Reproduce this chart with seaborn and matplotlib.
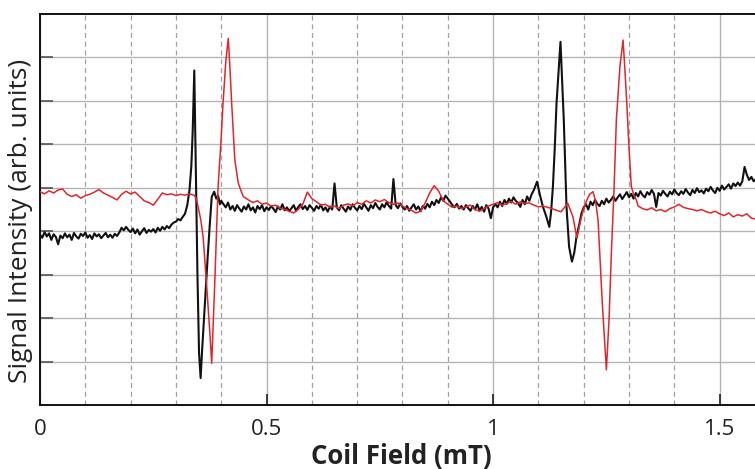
import numpy as np
import pandas as pd
import matplotlib
matplotlib.use("Agg")
import matplotlib.pyplot as plt
import seaborn as sns

# ---------------- data ----------------
# black trace: sampled segments (start, step) + hand-read values
black_segA_start, black_step = 0.0, 0.005
black_segA = [3.92, 3.85, 3.98, 3.88, 3.95, 3.80, 3.93, 3.87, 3.70, 3.90,
              3.84, 3.95, 3.86, 3.92, 3.80, 3.96, 3.88, 3.83, 3.94, 3.89,
              3.97, 3.85, 3.91, 3.82, 3.95, 3.88, 3.93, 3.84, 3.90, 3.96,
              3.86, 3.92, 3.85, 3.94, 3.89, 3.97, 4.08, 4.02, 4.10, 4.03,
              3.98, 4.06, 3.95, 4.04, 3.92, 4.00, 4.07, 3.96, 4.03, 3.99,
              4.05, 3.97, 4.08, 4.01, 4.10, 4.04, 4.12, 4.07, 4.15, 4.20]
black_peak1_x = [0.300, 0.305, 0.310, 0.315, 0.320, 0.325, 0.330, 0.334, 0.337,
                 0.3405, 0.3445, 0.3475, 0.351, 0.3545, 0.358, 0.364, 0.370,
                 0.375, 0.379, 0.3845, 0.389, 0.393, 0.397, 0.400]
black_peak1_y = [4.22, 4.28, 4.25, 4.33, 4.40, 4.60, 4.95, 5.50, 6.30,
                 7.70, 5.00, 3.00, 1.20, 0.62, 1.30, 2.35, 3.40,
                 4.20, 4.79, 4.91, 4.75, 4.82, 4.62, 4.70]
black_segB_start = 0.405
black_segB = [4.62, 4.55, 4.66, 4.50, 4.58, 4.47, 4.60, 4.52, 4.45, 4.57,
              4.50, 4.62, 4.48, 4.55, 4.43, 4.58, 4.51, 4.60, 4.46, 4.55,
              4.49, 4.58, 4.52, 4.44, 4.57, 4.50, 4.62, 4.48, 4.55, 4.46,
              4.53, 4.60, 4.47, 4.56, 4.62, 4.51, 4.58, 4.49, 4.60, 4.54,
              4.47, 4.58, 4.52, 4.61, 4.48, 4.55, 4.45, 4.57, 4.50, 5.10,
              4.55, 4.48, 4.60, 4.52, 4.45, 4.57, 4.50, 4.62, 4.54, 4.48,
              4.58, 4.51, 4.63, 4.55, 4.47, 4.60, 4.53, 4.65, 4.56, 4.50,
              4.62, 4.55, 4.67, 4.58, 4.52, 5.20, 4.60, 4.53, 4.64, 4.56,
              4.50, 4.58, 4.47, 4.55, 4.62, 4.50, 4.57, 4.46, 4.58, 4.52,
              4.63, 4.55, 4.68, 4.60, 4.72, 4.65, 4.78, 4.70, 4.82, 4.75,
              4.68, 4.60, 4.55, 4.63, 4.52, 4.58, 4.50, 4.60, 4.53, 4.47,
              4.58, 4.50, 4.62, 4.48, 4.56, 4.45, 4.60, 4.52, 4.30, 4.55,
              4.62, 4.55, 4.68, 4.58, 4.72, 4.63, 4.75, 4.66, 4.78, 4.70,
              4.65]
black_peak2_x = [1.060, 1.065, 1.070, 1.075, 1.080, 1.085, 1.090, 1.097, 1.103,
                 1.110, 1.117, 1.124, 1.128, 1.132, 1.136, 1.140, 1.1487, 1.156,
                 1.162, 1.1677, 1.174, 1.179, 1.184, 1.190, 1.195, 1.200, 1.205,
                 1.210]
black_peak2_y = [4.56, 4.72, 4.62, 4.80, 4.70, 4.85, 4.95, 5.14, 4.85,
                 4.56, 4.35, 4.10, 4.45, 5.03, 5.90, 6.95, 8.36, 6.56,
                 4.56, 3.64, 3.30, 3.50, 3.87, 4.15, 4.41, 4.55, 4.62,
                 4.50]
black_segC_start = 1.215
black_segC = [4.68, 4.60, 4.72, 4.63, 4.58, 4.70, 4.62, 4.75, 4.66, 4.72,
              4.80, 4.70, 4.78, 4.85, 4.74, 4.82, 4.90, 4.78, 4.86, 4.75,
              4.88, 4.80, 4.92, 4.83, 4.78, 4.90, 4.84, 4.95, 4.86, 4.56,
              4.88, 4.82, 4.93, 4.86, 4.80, 4.91, 4.85, 4.96, 4.88, 4.83,
              4.92, 4.86, 4.97, 4.89, 4.83, 4.95, 4.88, 4.99, 4.90, 4.94,
              4.87, 4.98, 4.92, 5.02, 4.94, 4.88, 5.00, 4.93, 5.05, 4.96,
              5.02, 5.08, 4.98, 5.10, 5.04, 5.12, 5.05, 5.15, 5.48, 5.30,
              5.18, 5.25, 5.15, 5.20]

# red trace
red_step = 0.01
red_segA_start = 0.0
red_segA = [4.91, 4.86, 4.93, 4.88, 4.95, 4.97, 4.85, 4.80, 4.84, 4.76,
            4.82, 4.85, 4.90, 4.96, 4.88, 4.83, 4.78, 4.72, 4.85, 4.92,
            4.86, 4.90, 4.80, 4.70, 4.66, 4.60, 4.74, 4.88, 4.84, 4.86,
            4.82, 4.85, 4.83, 4.86, 4.83]
red_peak1_x = [0.345, 0.349, 0.355, 0.360, 0.364, 0.368, 0.374, 0.379, 0.386,
               0.393, 0.399, 0.404, 0.410, 0.4155, 0.419, 0.423, 0.427, 0.430,
               0.4375, 0.443, 0.4485]
red_peak1_y = [4.75, 4.56, 4.25, 3.87, 3.30, 2.72, 1.80, 0.96, 2.90,
               5.02, 6.00, 6.95, 7.90, 8.44, 7.80, 6.95, 6.20, 5.64,
               5.11, 4.95, 4.80]
red_segB_start = 0.46
red_segB = [4.72, 4.66, 4.70, 4.62, 4.65, 4.58, 4.60, 4.53, 4.50, 4.46,
            4.42, 4.50, 4.62, 4.90, 4.75, 4.68, 4.60, 4.62, 4.55, 4.58,
            4.52, 4.60, 4.63, 4.58, 4.66, 4.62, 4.70, 4.65, 4.72, 4.68,
            4.73, 4.66, 4.62, 4.65, 4.58, 4.52, 4.48, 4.42, 4.46, 4.65,
            4.88, 5.05, 4.92, 4.70, 4.62, 4.55, 4.58, 4.52, 4.56, 4.60,
            4.50, 4.46, 4.52, 4.58, 4.62, 4.66, 4.60, 4.64, 4.68, 4.62,
            4.68, 4.64, 4.65, 4.60, 4.56, 4.58, 4.55, 4.52, 4.48, 4.45,
            4.58]
red_peak2_x = [1.165, 1.170, 1.176, 1.185, 1.192, 1.199, 1.206, 1.213, 1.2205,
               1.226, 1.2316, 1.241, 1.250, 1.256, 1.261, 1.267, 1.272, 1.280,
               1.2868, 1.291, 1.295, 1.300, 1.305, 1.310, 1.316]
red_peak2_y = [4.64, 4.50, 4.34, 3.84, 4.20, 4.49, 4.70, 4.85, 4.91,
               4.70, 4.26, 2.34, 0.81, 2.00, 3.50, 5.00, 6.56, 7.80,
               8.40, 7.70, 6.95, 5.90, 5.03, 4.85, 4.72]
red_segC_start = 1.32
red_segC = [4.58, 4.52, 4.49, 4.54, 4.47, 4.50, 4.45, 4.52, 4.56, 4.62,
            4.55, 4.52, 4.50, 4.47, 4.50, 4.45, 4.42, 4.46, 4.40, 4.36,
            4.42, 4.33, 4.38, 4.35, 4.40, 4.30, 4.28]

x_ticks = [0, 0.5, 1, 1.5]
x_ticklabels = ["0", "0.5", "1", "1.5"]
x_label = "Coil Field (mT)"
y_label = "Signal Intensity (arb. units)"


def seg(start, step, vals):
    return [round(start + step * i, 4) for i in range(len(vals))], list(vals)


def assemble(parts):
    xs, ys = [], []
    for px, py in parts:
        xs += list(px)
        ys += list(py)
    return xs, ys


bx, by = assemble([seg(black_segA_start, black_step, black_segA),
                   (black_peak1_x, black_peak1_y),
                   seg(black_segB_start, black_step, black_segB),
                   (black_peak2_x, black_peak2_y),
                   seg(black_segC_start, black_step, black_segC)])
rx, ry = assemble([seg(red_segA_start, red_step, red_segA),
                   (red_peak1_x, red_peak1_y),
                   seg(red_segB_start, red_step, red_segB),
                   (red_peak2_x, red_peak2_y),
                   seg(red_segC_start, red_step, red_segC)])

df_black = pd.DataFrame({"field": bx, "signal": by})
df_red = pd.DataFrame({"field": rx, "signal": ry})

# ---------------- plot ----------------
sns.set_style("white")
plt.rcParams["font.family"] = ["Open Sans", "DejaVu Sans"]

fig = plt.figure(figsize=(7.55, 4.69), dpi=100)
ax = fig.add_axes([40 / 755, 1 - 405 / 469, 1 - 40 / 755, (405 - 14) / 469])

sns.lineplot(data=df_black, x="field", y="signal", ax=ax, color="#111111",
             lw=1.5, estimator=None, sort=False, zorder=3)
sns.lineplot(data=df_red, x="field", y="signal", ax=ax, color="#e0262b",
             lw=1.1, estimator=None, sort=False, zorder=4)

ax.set_xlim(0, 1.578)
ax.set_ylim(0, 9)

ax.set_xticks(x_ticks)
ax.set_xticklabels(x_ticklabels)
ax.set_xticks([round(0.1 * i, 1) for i in range(1, 16) if i % 5 != 0], minor=True)
ax.set_yticks(list(range(1, 9)))
ax.set_yticklabels([])

ax.grid(which="major", axis="both", color="#b4b4b4", lw=1.0, ls="-", zorder=0)
ax.grid(which="minor", axis="x", color="#a0a0a0", lw=0.9, ls=(0, (4, 3)), zorder=0)
ax.set_axisbelow(True)

ax.tick_params(axis="x", which="major", direction="in", length=8, width=1.2,
               labelsize=16, pad=10, colors="#222222", bottom=True)
ax.tick_params(axis="x", which="minor", direction="in", length=0, bottom=True)
ax.tick_params(axis="y", which="major", direction="in", length=9, width=1.2,
               left=True, colors="#555555")

for side in ["left", "bottom", "top"]:
    ax.spines[side].set_visible(True)
    ax.spines[side].set_color("#111111")
    ax.spines[side].set_linewidth(1.4)
ax.spines["right"].set_visible(False)

ax.set_xlabel(x_label, fontsize=18.5, fontweight="bold", color="#222222")
ax.set_ylabel(y_label, fontsize=19, color="#222222")
ax.xaxis.set_label_coords(0.506, -0.097)
ax.yaxis.set_label_coords(-0.010, 0.47)

fig.savefig("out.png", dpi=100)
